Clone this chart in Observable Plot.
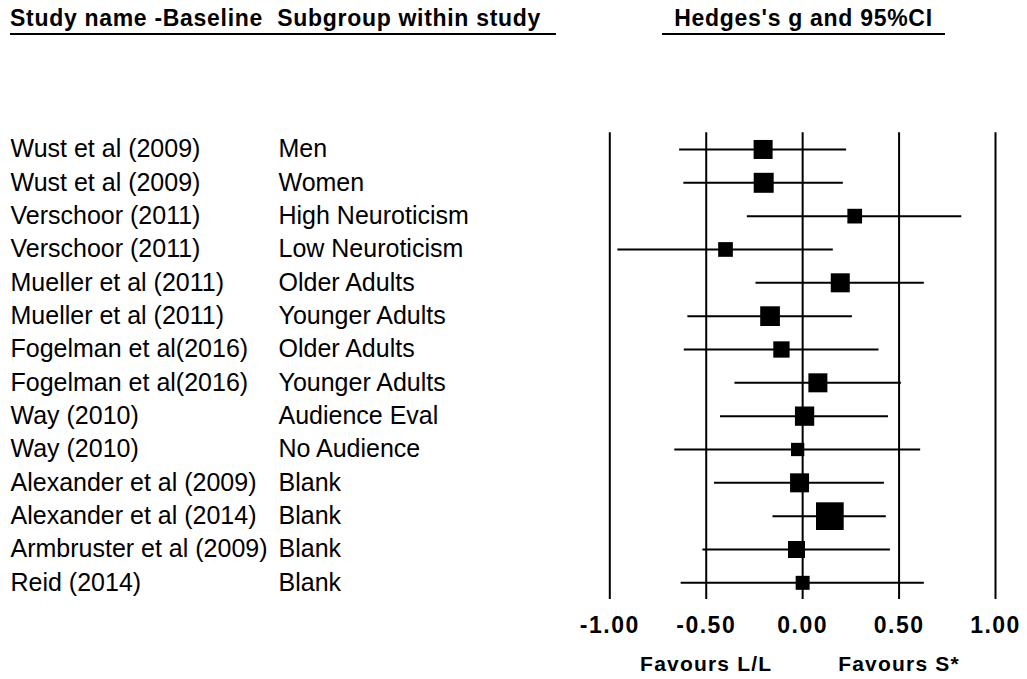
<!DOCTYPE html>
<html>
<head>
<meta charset="utf-8">
<script src="https://cdn.jsdelivr.net/npm/d3@7"></script>
<script src="https://cdn.jsdelivr.net/npm/@observablehq/plot@0.6"></script>
<style>
  html, body { margin: 0; padding: 0; background: #fff; }
  #wrap { width: 1027px; position: relative; font-family: "Liberation Sans", Arial, sans-serif; }
  #head { position: relative; height: 40px; }
  #head span { position: absolute; top: 4px; line-height: 29px; font-weight: bold; font-size: 23px;
               letter-spacing: 0.7px; border-bottom: 2px solid #000; white-space: pre; color: #000; }
  #h1 { left: 10px; width: 546px; }
  #h2 { left: 662px; width: 283px; text-align: center; letter-spacing: 0.8px; }
</style>
</head>
<body>
<div id="wrap">
  <div id="head">
    <span id="h1">Study name -Baseline  Subgroup within study</span>
    <span id="h2">Hedges's g and 95%CI</span>
  </div>
  <div id="chart"></div>
</div>
<script>
const studies = ["Wust et al (2009)","Wust et al (2009)","Verschoor (2011)","Verschoor (2011)",
  "Mueller et al (2011)","Mueller et al (2011)","Fogelman et al(2016)","Fogelman et al(2016)",
  "Way (2010)","Way (2010)","Alexander et al (2009)","Alexander et al (2014)",
  "Armbruster et al (2009)","Reid (2014)"];
const subgroups = ["Men","Women","High Neuroticism","Low Neuroticism","Older Adults","Younger Adults",
  "Older Adults","Younger Adults","Audience Eval","No Audience","Blank","Blank","Blank","Blank"];
const hedgesG = [-0.205,-0.202,0.270,-0.400,0.195,-0.169,-0.110,0.079,0.010,-0.026,-0.016,0.141,-0.032,0.000];
const lowerCI = [-0.638,-0.616,-0.287,-0.958,-0.242,-0.595,-0.614,-0.351,-0.426,-0.663,-0.457,-0.154,-0.517,-0.630];
const upperCI = [0.228,0.211,0.825,0.159,0.631,0.258,0.396,0.512,0.445,0.612,0.424,0.434,0.455,0.631];
const weights = [7.63,8.45,4.57,4.57,7.63,8.20,5.62,7.63,7.86,3.74,7.63,16.21,6.11,4.14];
const xTicks = [-1, -0.5, 0, 0.5, 1];
const favours = [{x: -0.5, label: "Favours L/L"}, {x: 0.5, label: "Favours S*"}];

const rows = studies.map((s, i) => ({
  row: i + 1, study: s, sub: subgroups[i], g: hedgesG[i], lo: lowerCI[i], hi: upperCI[i], w: weights[i]
}));

const font = "Liberation Sans, Arial, sans-serif";
const chart = Plot.plot({
  width: 1027,
  height: 639,
  marginLeft: 609.3,
  marginRight: 32,
  marginTop: 92.3,
  marginBottom: 80,
  style: {fontFamily: font, color: "#000", background: "#fff"},
  x: {domain: [-1, 1], axis: null},
  y: {domain: [0.5, rows.length + 0.5], reverse: true, axis: null},
  r: {type: "sqrt", domain: [0, d3.max(weights)], range: [0, 27.7 / Math.sqrt(Math.PI)]},
  marks: [
    Plot.ruleX(xTicks, {stroke: "#000", strokeWidth: 2}),
    Plot.ruleY(rows, {y: "row", x1: "lo", x2: "hi", stroke: "#000", strokeWidth: 2}),
    Plot.dot(rows, {x: "g", y: "row", r: "w", symbol: "square", fill: "#000", stroke: null}),
    Plot.text(rows, {y: "row", text: "study", frameAnchor: "left", dx: -599.3, textAnchor: "start",
      fontSize: 25, fill: "#000", fontFamily: font}),
    Plot.text(rows, {y: "row", text: "sub", frameAnchor: "left", dx: -331.3, textAnchor: "start",
      fontSize: 25, fill: "#000", fontFamily: font}),
    Plot.axisX({ticks: xTicks, tickFormat: d => d.toFixed(2), tickSize: 0, tickPadding: 17,
      fontSize: 23, fontWeight: "bold", fill: "#000", label: null}),
    Plot.text(favours, {x: "x", text: "label", frameAnchor: "bottom", dy: 65, lineAnchor: "middle",
      fontSize: 21, fontWeight: "bold", fill: "#000", fontFamily: font})
  ]
});
d3.select(chart).selectAll('g[aria-label="x-axis tick label"] text').style("letter-spacing", "1.5px");
d3.select(chart).selectAll("text").filter(function() { return this.textContent.startsWith("Favours"); })
  .style("letter-spacing", "1.2px");
document.getElementById("chart").appendChild(chart);
</script>
</body>
</html>
